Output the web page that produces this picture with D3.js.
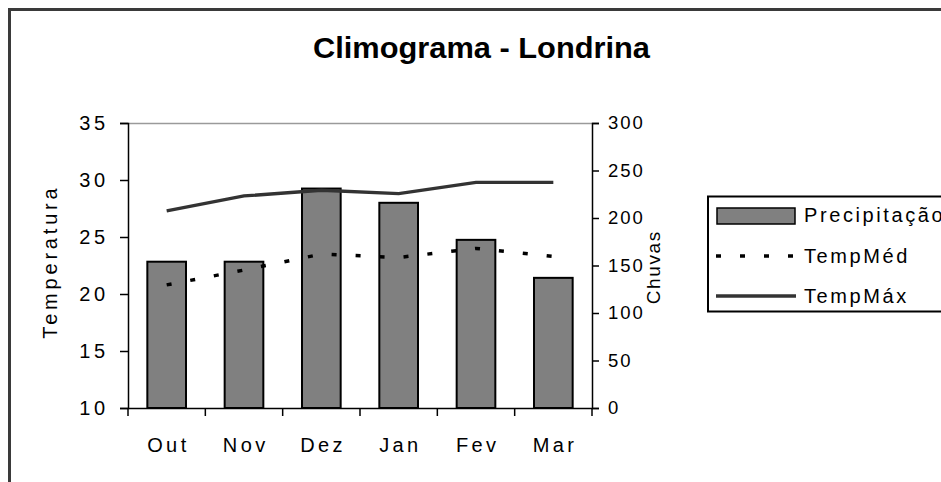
<!DOCTYPE html>
<html>
<head>
<meta charset="utf-8">
<script src="https://cdn.jsdelivr.net/npm/d3@7"></script>
<style>
  html, body { margin: 0; padding: 0; background: #fff; }
  svg { display: block; }
  text { font-family: "Liberation Sans", Arial, sans-serif; fill: #000; }
</style>
</head>
<body>
<svg id="chart" width="941" height="482"></svg>
<script>
// ---- data ----
const months = ["Out", "Nov", "Dez", "Jan", "Fev", "Mar"];
const precipitacao = [154, 154, 231, 216, 177, 137];
const tempMed = [20.8, 22.1, 23.5, 23.2, 24.0, 23.3];
const tempMax = [27.3, 28.6, 29.1, 28.8, 29.8, 29.8];
const tempTicks = [10, 15, 20, 25, 30, 35];
const chuvaTicks = [0, 50, 100, 150, 200, 250, 300];
const titleText = "Climograma - Londrina";
const legendLabels = ["Precipitação", "TempMéd", "TempMáx"];

// ---- layout ----
const plot = { left: 128, right: 592, top: 123, bottom: 408 };
const fs = 20, ls = 3.4;

const svg = d3.select("#chart");

// outer chart border
svg.append("rect")
  .attr("x", 9.5).attr("y", 9.5)
  .attr("width", 1100).attr("height", 700)
  .attr("fill", "#fff").attr("stroke", "#3a3a3a").attr("stroke-width", 3);

// title
svg.append("text")
  .attr("x", 313).attr("y", 58)
  .attr("font-size", 29).attr("font-weight", "bold")
  .attr("textLength", 337).attr("lengthAdjust", "spacingAndGlyphs")
  .text(titleText);

// scales
const x = d3.scaleBand().domain(months)
  .range([plot.left, plot.right]).paddingInner(0.5).paddingOuter(0.25);
const yT = d3.scaleLinear().domain([10, 35]).range([plot.bottom, plot.top]);
const yP = d3.scaleLinear().domain([0, 300]).range([plot.bottom, plot.top]);

// plot area top border (gray)
svg.append("line")
  .attr("x1", plot.left).attr("x2", plot.right)
  .attr("y1", plot.top + 0.5).attr("y2", plot.top + 0.5)
  .attr("stroke", "#9a9a9a").attr("stroke-width", 1.5);

// bars
svg.append("g").selectAll("rect").data(months).join("rect")
  .attr("x", d => x(d))
  .attr("y", (d, i) => yP(precipitacao[i]))
  .attr("width", x.bandwidth())
  .attr("height", (d, i) => yP(0) - yP(precipitacao[i]))
  .attr("fill", "#808080").attr("stroke", "#000").attr("stroke-width", 2);

// lines
const cx = d => x(d) + x.bandwidth() / 2;
const tLine = d3.line().x((d, i) => cx(months[i])).y(d => yT(d));
svg.append("path").datum(tempMax)
  .attr("d", tLine)
  .attr("fill", "none").attr("stroke", "#333").attr("stroke-width", 3.3);
svg.append("path").datum(tempMed)
  .attr("d", tLine)
  .attr("fill", "none").attr("stroke", "#000").attr("stroke-width", 3.5)
  .attr("stroke-dasharray", "5,19");

function styleTicks(sel, size, sp) {
  sel.attr("font-size", size).attr("letter-spacing", sp)
    .attr("font-family", "Liberation Sans, Arial, sans-serif").attr("fill", "#000");
}

// left axis
const axL = svg.append("g").attr("transform", `translate(${plot.left},0)`)
  .call(d3.axisLeft(yT).tickValues(tempTicks).tickSize(8).tickPadding(15).tickFormat(d3.format("d")));
axL.select(".domain").attr("stroke", "#000").attr("stroke-width", 1.5);
axL.selectAll(".tick line").attr("stroke", "#000").attr("stroke-width", 1.5);
axL.selectAll(".tick text").call(styleTicks, fs, ls).attr("dx", ls);

// right axis
const axR = svg.append("g").attr("transform", `translate(${plot.right},0)`)
  .call(d3.axisRight(yP).tickValues(chuvaTicks).tickSize(7).tickPadding(9).tickFormat(d3.format("d")));
axR.select(".domain").attr("stroke", "#000").attr("stroke-width", 1.5);
axR.selectAll(".tick line").attr("stroke", "#000").attr("stroke-width", 1.5);
axR.selectAll(".tick text").call(styleTicks, 18.5, 2);

// bottom axis
const axB = svg.append("g").attr("transform", `translate(0,${plot.bottom})`)
  .call(d3.axisBottom(x).tickSize(0).tickPadding(30));
axB.select(".domain").attr("stroke", "#000").attr("stroke-width", 1.5);
axB.selectAll(".tick text").call(styleTicks, fs, ls).attr("dx", ls / 2);
// category boundary ticks
svg.append("g").selectAll("line").data(d3.range(months.length + 1)).join("line")
  .attr("x1", i => plot.left + i * x.step()).attr("x2", i => plot.left + i * x.step())
  .attr("y1", plot.bottom).attr("y2", plot.bottom + 8)
  .attr("stroke", "#000").attr("stroke-width", 1.5);

// axis titles
svg.append("text")
  .attr("transform", `translate(57,${(plot.top + plot.bottom) / 2 - 2}) rotate(-90)`)
  .attr("text-anchor", "middle").attr("font-size", fs).attr("letter-spacing", 3.8).attr("dx", 1.9)
  .text("Temperatura");
svg.append("text")
  .attr("transform", `translate(660,268) rotate(-90)`)
  .attr("text-anchor", "middle").attr("font-size", 19).attr("letter-spacing", 1.6).attr("dx", 0.8)
  .text("Chuvas");

// legend
const lg = svg.append("g");
lg.append("rect").attr("x", 708).attr("y", 196.5).attr("width", 400).attr("height", 115)
  .attr("fill", "#fff").attr("stroke", "#000").attr("stroke-width", 2);
lg.append("rect").attr("x", 717).attr("y", 208).attr("width", 78).attr("height", 16)
  .attr("fill", "#808080").attr("stroke", "#000").attr("stroke-width", 1.5);
lg.append("line").attr("x1", 716).attr("x2", 796).attr("y1", 256).attr("y2", 256)
  .attr("stroke", "#000").attr("stroke-width", 3.5).attr("stroke-dasharray", "5,19");
lg.append("line").attr("x1", 716).attr("x2", 796).attr("y1", 296).attr("y2", 296)
  .attr("stroke", "#333").attr("stroke-width", 3.3);
const lgY = [222, 263, 303];
lg.selectAll("text.lbl").data(legendLabels).join("text").attr("class", "lbl")
  .attr("x", 804).attr("y", (d, i) => lgY[i])
  .attr("font-size", fs).attr("letter-spacing", 2.6)
  .text(d => d);
</script>
</body>
</html>
